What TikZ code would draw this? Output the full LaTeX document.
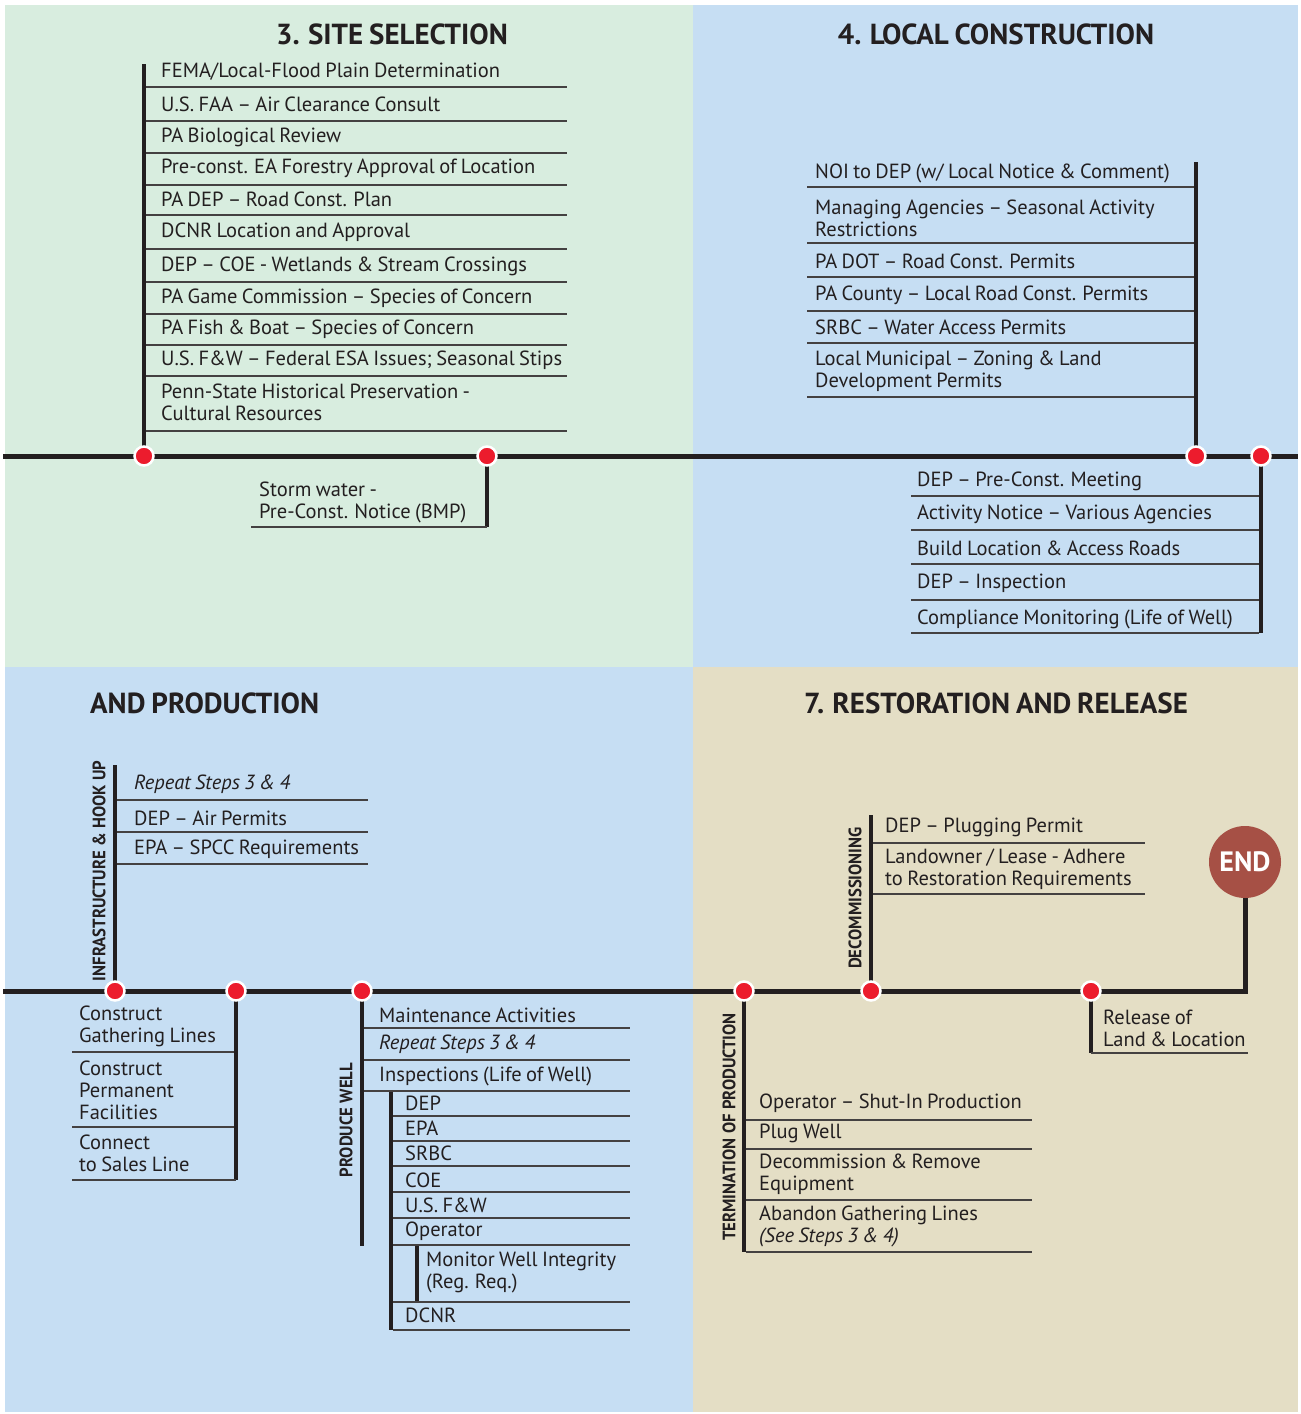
\documentclass[tikz,border=0pt]{standalone}
\usepackage{fontspec}
\setmainfont[WordSpace=0.8]{PT Sans}
\newfontfamily\condfont[FakeStretch=0.93]{PT Sans}
\usetikzlibrary{positioning}

\definecolor{sitegreen}{HTML}{D8EDDF}
\definecolor{stepblue}{HTML}{C6DEF3}
\definecolor{restbeige}{HTML}{E4DEC5}
\definecolor{dotred}{HTML}{EC1C2D}
\definecolor{endbrown}{HTML}{A65045}
\definecolor{inkgray}{HTML}{231F20}

\pgfdeclarelayer{panels}
\pgfdeclarelayer{rails}
\pgfsetlayers{panels,rails,main}

\tikzset{
  timeline/.style={line width=5pt, draw=inkgray},
  stem/.style={line width=4.5pt, draw=inkgray},
  rule/.style={line width=1.4pt, draw=inkgray!85},
  stop/.style={circle, fill=dotred, draw=white, line width=2.5pt, minimum size=19pt, inner sep=0pt},
  item/.style={anchor=west, inner sep=0pt, align=left, text=inkgray,
    font=\fontsize{20.5}{22}\selectfont},
  heading/.style={inner sep=0pt, text=inkgray, font=\bfseries\fontsize{29}{29}\selectfont},
  phase/.style={rotate=90, inner sep=0pt, text=inkgray, font=\condfont\bfseries\fontsize{18}{18}\selectfont},
}

\begin{document}
\begin{tikzpicture}[x=1pt,y=-1pt]
\useasboundingbox (0,0) rectangle (1301,1414);

% panels
\begin{pgfonlayer}{panels}
  \fill[white] (0,0) rectangle (1301,1414);
  \fill[sitegreen] (5,5) rectangle (693,667);
  \fill[stepblue] (693,5) rectangle (1298,667);
  \fill[stepblue] (5,667) rectangle (693,1412);
  \fill[restbeige] (693,667) rectangle (1298,1412);
\end{pgfonlayer}

% headings
\node[heading] (siteselection) at (392,34) {3. SITE SELECTION};
\node[heading] (localconstruction) at (996,34) {4. LOCAL CONSTRUCTION};
\node[heading, anchor=west] (andproduction) at (90,703) {AND PRODUCTION};
\node[heading] (restoration) at (996,703) {7. RESTORATION AND RELEASE};

% stops on the upper time line
\node[stop] (site) at (144,456) {};
\node[stop] (storm) at (487,456) {};
\node[stop] (local) at (1196,456) {};
\node[stop] (build) at (1261,456) {};

% stops on the lower time line
\node[stop] (hookup) at (115,991) {};
\node[stop] (gather) at (236,991) {};
\node[stop] (produce) at (362,991) {};
\node[stop] (terminate) at (744,991) {};
\node[stop] (decommission) at (871,991) {};
\node[stop] (release) at (1091,991) {};
\node[circle, fill=endbrown, minimum size=72pt, inner sep=0pt, text=white,
  font=\bfseries\fontsize{28}{28}\selectfont] (end) at (1245,862) {END};

\coordinate (rail1w) at (3,456);
\coordinate (rail1e) at (1298,456);
\coordinate (rail2w) at (3,991);

% time lines and stems
\begin{pgfonlayer}{rails}
  \draw[timeline] (rail1w) -- (rail1e);
  \draw[timeline] (rail2w) -- (release.center) -- (end.center |- release.center) -- (end.center);

  \coordinate (sitetop) at (144,64);
  \coordinate (stormfoot) at (487,527);
  \coordinate (localtop) at (1196,162);
  \coordinate (buildfoot) at (1261,633);
  \draw[stem] (site.center) -- (sitetop);
  \draw[stem] (storm.center) -- (stormfoot);
  \draw[stem] (local.center) -- (localtop);
  \draw[stem] (build.center) -- (buildfoot);

  \coordinate (hookuptop) at (115,765);
  \coordinate (gatherfoot) at (236,1180);
  \coordinate (producefoot) at (362,1246);
  \coordinate (inspecttop) at (391,1091);
  \coordinate (inspectfoot) at (391,1330);
  \coordinate (monitortop) at (417,1245);
  \coordinate (monitorfoot) at (417,1302);
  \coordinate (terminatefoot) at (744,1252);
  \coordinate (decommissiontop) at (871,815);
  \coordinate (releasefoot) at (1091,1053);
  \draw[stem] (hookup.center) -- (hookuptop);
  \draw[stem] (gather.center) -- (gatherfoot);
  \draw[stem] (produce.center) -- (producefoot);
  \draw[stem] (inspecttop) -- (inspectfoot);
  \draw[stem, line width=4pt] (monitortop) -- (monitorfoot);
  \draw[stem] (terminate.center) -- (terminatefoot);
  \draw[stem] (decommission.center) -- (decommissiontop);
  \draw[stem] (release.center) -- (releasefoot);
\end{pgfonlayer}

% 3. site selection
\foreach \y in {87,121,153,185,215,249,282,314,345,376,431}
  \draw[rule] (146,\y) -- (567,\y);
\node[item] (fema) at (161,72) {FEMA/Local-Flood Plain Determination};
\node[item] (faa) at (161,104) {U.S. FAA -- Air Clearance Consult};
\node[item] (bio) at (161,137) {PA Biological Review};
\node[item] (forestry) at (161,168) {Pre-const. EA Forestry Approval of Location};
\node[item] (roadplan) at (161,199) {PA DEP -- Road Const. Plan};
\node[item] (dcnr) at (161,232) {DCNR Location and Approval};
\node[item] (wetlands) at (161,266) {DEP -- COE - Wetlands \& Stream Crossings};
\node[item] (game) at (161,298) {PA Game Commission -- Species of Concern};
\node[item] (fish) at (161,329) {PA Fish \& Boat -- Species of Concern};
\node[item] (esa) at (161,360) {U.S. F\&W -- Federal ESA Issues; Seasonal Stips};
\node[item] (historic) at (161,402.5) {Penn-State Historical Preservation -\\Cultural Resources};

\draw[rule] (251,527) -- (stormfoot);
\node[item] (stormwater) at (259,502.5) {Storm water -\\Pre-Const. Notice (BMP)};

% 4. local construction
\foreach \y in {187,243,277,311,343,397}
  \draw[rule] (807,\y) -- (1194,\y);
\node[item] (noi) at (815,173) {NOI to DEP (w/ Local Notice \& Comment)};
\node[item] (seasonal) at (815,218) {Managing Agencies -- Seasonal Activity\\Restrictions};
\node[item] (padot) at (815,261) {PA DOT -- Road Const. Permits};
\node[item] (county) at (815,295) {PA County -- Local Road Const. Permits};
\node[item] (srbc) at (815,327) {SRBC -- Water Access Permits};
\node[item] (zoning) at (815,371) {Local Municipal -- Zoning \& Land\\Development Permits};

\foreach \y in {496,530,564,600,633}
  \draw[rule] (911,\y) -- (1259,\y);
\node[item] (meeting) at (917,481) {DEP -- Pre-Const. Meeting};
\node[item] (notice) at (917,514) {Activity Notice -- Various Agencies};
\node[item] (roads) at (917,548) {Build Location \& Access Roads};
\node[item] (inspection) at (917,583) {DEP -- Inspection};
\node[item] (compliance) at (917,619) {Compliance Monitoring (Life of Well)};

% infrastructure & hook up
\node[phase] (hookuplabel) at (99,871) {INFRASTRUCTURE \& HOOK UP};
\foreach \y in {800,832,864}
  \draw[rule] (117,\y) -- (368,\y);
\node[item, font=\itshape\fontsize{20.5}{22}\selectfont] (repeat1) at (134,784) {Repeat Steps 3 \& 4};
\node[item] (air) at (134,818) {DEP -- Air Permits};
\node[item] (spcc) at (134,849) {EPA -- SPCC Requirements};

\foreach \y in {1052,1127}
  \draw[rule] (72,\y) -- (234,\y);
\draw[rule] (72,1180) -- (gatherfoot);
\node[item] (lines) at (79,1026) {Construct\\Gathering Lines};
\node[item] (facilities) at (79,1090) {Construct\\Permanent\\Facilities};
\node[item] (sales) at (79,1153.5) {Connect\\to Sales Line};

% produce well
\node[phase] (producelabel) at (346,1120) {PRODUCE WELL};
\foreach \y in {1028,1060,1091}
  \draw[rule] (364,\y) -- (630,\y);
\node[item] (maintenance) at (379,1015) {Maintenance Activities};
\node[item, font=\itshape\fontsize{20.5}{22}\selectfont] (repeat2) at (379,1044) {Repeat Steps 3 \& 4};
\node[item] (inspections) at (379,1076) {Inspections (Life of Well)};
\foreach \y in {1116,1141,1166,1192,1218,1245,1302,1330}
  \draw[rule] (393,\y) -- (630,\y);
\node[item] (dep) at (405,1103) {DEP};
\node[item] (epa) at (405,1128) {EPA};
\node[item] (srbc2) at (405,1153) {SRBC};
\node[item] (coe) at (405,1180) {COE};
\node[item] (fw) at (405,1205) {U.S. F\&W};
\node[item] (operator) at (405,1231) {Operator};
\node[item] (integrity) at (426,1272) {Monitor Well Integrity\\(Reg. Req.)};
\node[item] (dcnr2) at (405,1315) {DCNR};

% termination of production
\node[phase] (terminatelabel) at (729,1127) {TERMINATION OF PRODUCTION};
\foreach \y in {1120,1149,1200,1252}
  \draw[rule] (746,\y) -- (1032,\y);
\node[item] (shutin) at (759,1103) {Operator -- Shut-In Production};
\node[item] (plug) at (759,1133) {Plug Well};
\node[item] (remove) at (759,1174) {Decommission \& Remove\\Equipment};
\node[item] (abandon) at (759,1226) {Abandon Gathering Lines\\\itshape(See Steps 3 \& 4)};

% decommissioning
\node[phase] (decommissionlabel) at (855,898) {DECOMMISSIONING};
\foreach \y in {843,894}
  \draw[rule] (873,\y) -- (1145,\y);
\node[item] (plugging) at (885,827) {DEP -- Plugging Permit};
\node[item] (landowner) at (885,869.5) {Landowner / Lease - Adhere\\to Restoration Requirements};

% release
\draw[rule] (releasefoot) -- (1248,1053);
\node[item] (releaseland) at (1103,1028.5) {Release of\\Land \& Location};
\end{tikzpicture}
\end{document}
